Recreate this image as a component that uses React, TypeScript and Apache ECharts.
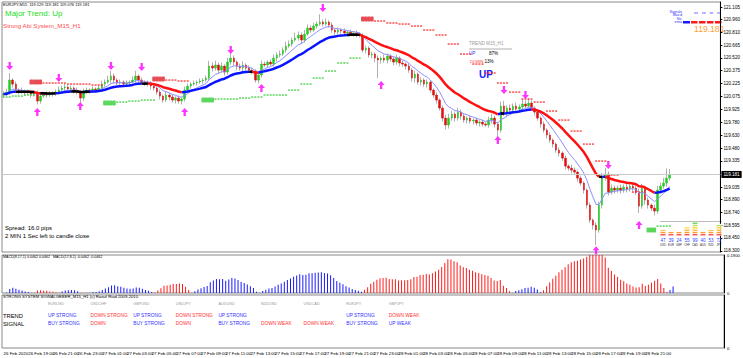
import React, { useEffect, useRef } from "react";
import * as echarts from "echarts";

// ---------------- DATA ----------------
const firstOpen = 120.093;
const closes = [
  120.104, 120.127, 120.265, 120.219, 120.15, 120.127, 120.139, 120.116, 120.127, 120.104,
  120.116, 120.024, 120.081, 120.104, 120.093, 120.116, 120.104, 120.127, 120.15, 120.173,
  120.185, 120.162, 120.173, 120.15, 120.127, 120.058, 120.127, 120.15, 120.139, 120.162,
  120.15, 120.173, 120.219, 120.242, 120.265, 120.311, 120.265, 120.231, 120.242, 120.219,
  120.231, 120.242, 120.265, 120.311, 120.265, 120.242, 120.219, 120.231, 120.196, 120.173,
  120.127, 120.081, 120.035, 120.093, 120.07, 120.035, 120.058, 120.024, 120.047, 120.15,
  120.196, 120.219, 120.231, 120.242, 120.254, 120.265, 120.288, 120.426, 120.403, 120.438,
  120.38, 120.426, 120.357, 120.472, 120.518, 120.472, 120.426, 120.403, 120.438, 120.403,
  120.38, 120.369, 120.265, 120.323, 120.449, 120.438, 120.472, 120.449, 120.518, 120.553,
  120.564, 120.61, 120.656, 120.679, 120.725, 120.748, 120.783, 120.725, 120.794, 120.863,
  120.84, 120.886, 120.909, 120.932, 120.909, 120.932, 120.898, 120.84, 120.817, 120.84,
  120.829, 120.806, 120.817, 120.794, 120.806, 120.794, 120.783, 120.61, 120.633, 120.553,
  120.564, 120.518, 120.495, 120.518, 120.495, 120.541, 120.507, 120.472, 120.518, 120.461,
  120.449, 120.426, 120.38, 120.288, 120.334, 120.242, 120.265, 120.219, 120.242, 120.15,
  120.093, 120.035, 119.943, 119.828, 119.748, 119.828, 119.874, 119.828, 119.897, 119.851,
  119.805, 119.828, 119.794, 119.805, 119.771, 119.782, 119.759, 119.748, 119.805, 119.828,
  119.759, 119.69, 119.966, 119.874, 119.943, 119.92, 119.966, 119.932, 119.955, 119.989,
  119.966, 120.001, 119.943, 119.897, 119.828, 119.759, 119.69, 119.633, 119.575, 119.529,
  119.46, 119.426, 119.368, 119.276, 119.253, 119.23, 119.207, 119.138, 119.081, 119.0,
  118.828, 118.655, 118.598, 118.54, 118.828, 119.138, 119.184, 118.977, 119.023, 119.0,
  119.023, 119.0, 119.035, 119.012, 119.046, 119.023, 118.977, 118.816, 119.023, 118.885,
  118.828, 118.793, 118.759, 119.0, 119.046, 119.081, 119.138, 119.181,
];
// wick lengths in pips (0.01)
const wickUp = [
  3, 4, 8, 2, 3, 2, 4, 2, 3, 2, 2, 3, 4, 2, 3, 2, 2, 3, 4, 3,
  4, 2, 3, 2, 3, 2, 4, 3, 2, 3, 2, 3, 4, 3, 5, 6, 3, 2, 3, 2,
  3, 2, 4, 6, 2, 3, 2, 3, 2, 2, 2, 3, 2, 4, 2, 3, 2, 3, 2, 4,
  3, 2, 3, 2, 3, 2, 3, 6, 4, 5, 3, 4, 2, 5, 6, 3, 2, 3, 4, 2,
  3, 2, 2, 3, 4, 3, 2, 3, 4, 3, 4, 3, 5, 4, 3, 6, 4, 3, 5, 4,
  3, 4, 3, 9, 3, 4, 2, 3, 2, 3, 2, 3, 2, 3, 2, 3, 2, 2, 3, 2,
  3, 2, 3, 2, 4, 3, 2, 3, 4, 2, 3, 2, 3, 2, 4, 2, 3, 2, 3, 2,
  2, 3, 2, 3, 4, 5, 4, 3, 5, 3, 3, 2, 3, 2, 3, 2, 3, 2, 4, 5,
  3, 2, 5, 6, 3, 4, 3, 4, 3, 5, 4, 5, 3, 2, 3, 2, 3, 2, 3, 2,
  2, 3, 2, 3, 2, 4, 3, 2, 3, 2, 2, 3, 2, 3, 4, 6, 7, 3, 4, 3,
  3, 4, 3, 4, 3, 4, 3, 4, 5, 3, 3, 2, 4, 5, 4, 6, 11, 6,
];
const wickDn = [
  3, 2, 3, 4, 2, 3, 2, 3, 2, 4, 3, 4, 3, 2, 3, 2, 3, 2, 3, 2,
  3, 2, 3, 4, 3, 5, 3, 2, 3, 2, 3, 2, 2, 3, 2, 3, 4, 3, 2, 3,
  2, 3, 2, 3, 4, 3, 2, 3, 4, 3, 3, 4, 3, 2, 4, 3, 4, 3, 4, 3,
  2, 3, 2, 3, 2, 3, 2, 3, 4, 3, 4, 3, 4, 3, 3, 4, 5, 3, 4, 3,
  3, 4, 3, 4, 3, 2, 3, 2, 3, 4, 3, 2, 3, 2, 3, 2, 3, 4, 3, 2,
  3, 2, 3, 2, 3, 2, 3, 3, 4, 3, 3, 2, 3, 2, 3, 4, 3, 3, 4, 3,
  4, 5, 21, 4, 3, 4, 3, 4, 3, 4, 3, 4, 3, 4, 5, 3, 4, 3, 4, 3,
  3, 4, 3, 4, 5, 4, 3, 4, 3, 4, 3, 4, 3, 4, 3, 4, 3, 2, 3, 4,
  4, 8, 3, 2, 3, 4, 3, 4, 3, 4, 3, 2, 3, 4, 3, 4, 3, 4, 3, 4,
  3, 4, 3, 4, 3, 4, 3, 4, 3, 4, 4, 3, 5, 17, 3, 4, 3, 4, 3, 4,
  3, 4, 3, 4, 3, 4, 3, 8, 3, 5, 4, 3, 5, 3, 4, 3, 4, 3,
];
const emptySlotsRight = 16;
const priceTicks = [
  121.105, 120.96, 120.81, 120.665, 120.52, 120.375, 120.225, 120.075, 119.925, 119.78,
  119.63, 119.48, 119.335, 119.035, 118.89, 118.74, 118.595, 118.45, 118.3,
];
const timeLabels = [
  "26 Feb 2020", "26 Feb 19:00", "26 Feb 21:00", "26 Feb 23:00", "27 Feb 01:00", "27 Feb 03:00",
  "27 Feb 05:00", "27 Feb 07:00", "27 Feb 09:00", "27 Feb 11:00", "27 Feb 13:00", "27 Feb 15:00",
  "27 Feb 17:00", "27 Feb 19:00", "27 Feb 21:00", "27 Feb 23:00", "28 Feb 01:00", "28 Feb 03:00",
  "28 Feb 05:00", "28 Feb 07:00", "28 Feb 09:00", "28 Feb 11:00", "28 Feb 13:00", "28 Feb 15:00",
  "28 Feb 17:00", "28 Feb 19:00", "28 Feb 21:00", "28 Feb 23:00",
];
// stop steps: [fromCandle, toCandle(exclusive), price]
const redStopBlocks = [[9, 13, 120.242], [49, 53, 120.277], [117, 121, 120.967]];
const redStopDots = [
  [13, 17, 120.231], [17, 21, 120.231], [21, 25, 120.219], [25, 29, 120.219], [29, 33, 120.208],
  [53, 57, 120.265], [57, 61, 120.254],
  [121, 125, 120.944], [125, 129, 120.921], [129, 133, 120.909], [133, 137, 120.886], [137, 141, 120.84],
  [141, 145, 120.783], [145, 149, 120.679], [149, 153, 120.564], [153, 157, 120.449], [157, 161, 120.346],
  [161, 165, 120.231], [165, 169, 120.127], [169, 173, 120.047], [173, 177, 120.012], [177, 181, 119.909],
  [181, 185, 119.805], [185, 189, 119.679], [189, 193, 119.529], [193, 197, 119.334], [197, 201, 119.173],
  [205, 209, 118.977],
];
const greenStopBlocks = [[33, 37, 120.001], [65, 69, 120.035], [210, 213, 118.54]];
const greenStopDots = [
  [0, 3, 120.07], [3, 7, 120.081], [7, 11, 120.093],
  [37, 41, 120.012], [41, 45, 120.024], [45, 50, 120.035],
  [69, 73, 120.047], [73, 77, 120.047], [77, 81, 120.058], [81, 85, 120.07], [85, 89, 120.093],
  [89, 93, 120.093], [93, 97, 120.15], [97, 101, 120.219], [101, 105, 120.288], [105, 109, 120.369],
  [109, 113, 120.461], [113, 117, 120.518],
  [213, 218, 118.586],
];
const sellArrows = [[2, 120.426], [18, 120.288], [35, 120.426], [45, 120.414], [74, 120.61], [104, 121.093], [163, 120.15], [170, 120.093], [197, 119.288]];
const buyArrows = [[11, 119.897], [25, 119.966], [59, 119.897], [84, 120.173], [123, 120.208], [161, 119.575], [193, 118.31], [207, 118.598]];
const currencies = ["USD", "EUR", "GBP", "CHF", "CAD", "AUD", "NZD", "JPY"];
const strength = [47, 39, 24, 55, 99, 40, 53, 72];
const strengthLevels = [0, 15, 45, 55, 70, 85];
const strengthColors = ["#ff1a1a", "#ff8c00", "#ffa500", "#ffc400", "#a6e22e", "#33cc33"];
const pairs = ["EURUSD", "USDCHF", "GBPUSD", "USDJPY", "AUDUSD", "NZDUSD", "USDCAD", "EURJPY", "GBPJPY"];
const trendRow = ["UP STRONG", "DOWN STRONG", "UP STRONG", "DOWN STRONG", "UP STRONG", "", "", "UP STRONG", "DOWN WEAK"];
const signalRow = ["BUY STRONG", "DOWN", "BUY STRONG", "DOWN", "BUY STRONG", "DOWN WEAK", "DOWN WEAK", "BUY STRONG", "UP WEAK"];
const macdMax = 0.19;

// ---------------- HELPERS ----------------
function ema(arr: number[], n: number) {
  const k = 2 / (n + 1);
  const out: number[] = [];
  let e = arr[0];
  arr.forEach((v, i) => {
    e = i === 0 ? v : v * k + e * (1 - k);
    out.push(e);
  });
  return out;
}
const expandSteps = (steps: number[][]) => {
  const pts: number[][] = [];
  steps.forEach(([a, b, p]) => {
    for (let k = a; k < b; k++) pts.push([k, p]);
  });
  return pts;
};
const isUpWord = (s: string) => s.startsWith("UP") || s.startsWith("BUY");

export default function App() {
  const ref = useRef<HTMLDivElement>(null);
  useEffect(() => {
    if (!ref.current) return;
    const chart = echarts.init(ref.current, undefined, { renderer: "svg" });
    const N = closes.length;
    const cats = Array.from({ length: N + emptySlotsRight }, (_, i) => String(i));
    const opens = closes.map((c, i) => (i === 0 ? firstOpen : closes[i - 1]));
    const ohlc = closes.map((c, i) => {
      const o = opens[i];
      return [o, c, Math.min(o, c) - wickDn[i] * 0.01, Math.max(o, c) + wickUp[i] * 0.01];
    });
    const bodies = closes.map((c, i) => {
      const o = opens[i];
      return [o, c, Math.min(o, c), Math.max(o, c)];
    });
    const fast = ema(closes, 8);
    const slow = ema(closes, 21);
    const segBlue: (number | null)[] = cats.map(() => null);
    const segRed: (number | null)[] = cats.map(() => null);
    const segBlack: (number | null)[] = cats.map(() => null);
    for (let i = 1; i < N; i++) {
      const d = slow[i] - slow[i - 1];
      const arr = d > 0.0015 ? segBlue : d < -0.0015 ? segRed : segBlack;
      arr[i - 1] = slow[i - 1];
      arr[i] = slow[i];
    }
    const e8 = ema(closes, 8);
    const e17 = ema(closes, 17);
    const macd = closes.map((_, i) => e8[i] - e17[i]);
    const macdBlue = macd.map((v) => (v > 0 ? v : null));
    const macdRed = macd.map((v) => (v < 0 ? -v : null));
    const last = closes[N - 1];
    const FONT = "Liberation Sans";
    const NARROW = "'Liberation Sans Narrow', 'Liberation Sans'";
    const hiddenX = (g: number) => ({
      type: "category", gridIndex: g, data: cats, boundaryGap: true,
      axisLine: { show: false }, axisTick: { show: false }, axisLabel: { show: false }, splitLine: { show: false },
    });
    const tickInterval = (i: number) => i % 8 === 0 && i < N;
    const downArrow = "path://M3,0 L6,0 L6,5 L9,5 L4.5,10 L0,5 L3,5 Z";
    const upArrow = "path://M4.5,0 L9,5 L6,5 L6,10 L3,10 L3,5 L0,5 Z";
    const txt = (x: number, y: number, text: string, fontSize: number, fill: string, extra: any = {}) => ({
      type: "text", x, y, silent: true,
      style: { text, fontSize, fill, fontFamily: extra.fontFamily ?? FONT, verticalAlign: "middle", align: extra.align ?? "left", fontWeight: extra.fontWeight ?? "normal" },
    });

    const graphics: any[] = [
      txt(3, 4.5, "EURJPY,M15  119.129 119.181 119.076 119.181", 4, "#000", { fontFamily: NARROW }),
      txt(5, 13.5, "Major Trend: Up", 8, "#22dd22"),
      txt(3, 25, "Strong Abi System_M15_H1", 6.2, "#ff4d4d"),
      txt(5, 228, "Spread: 16.0 pips", 6, "#000"),
      txt(5, 235.5, "2 MIN 1 Sec left to candle close", 6, "#000"),
      txt(469, 43.5, "TREND M15_H1", 4.6, "#999"),
      { type: "line", silent: true, shape: { x1: 469, y1: 49, x2: 512, y2: 49 }, style: { stroke: "#999", lineWidth: 0.8 } },
      txt(469, 53.5, "UP", 4.6, "#3333ff"),
      txt(489, 53.5, "87%", 4.6, "#000"),
      txt(470, 61.5, "DOWN", 4.2, "#ff3333"),
      txt(484.5, 61.5, "13%", 4.6, "#000"),
      txt(479, 74.5, "UP", 10, "#1a1aff", { fontWeight: "bold", fontFamily: NARROW }),
      txt(682, 12, "Signals", 3.8, "#3333ff", { align: "right" }),
      txt(682, 15, "Macd", 3.8, "#3333ff", { align: "right" }),
      txt(682, 18.5, "Stc", 3.8, "#3333ff", { align: "right" }),
      txt(682, 22, "ema", 3.8, "#3333ff", { align: "right" }),
      txt(694, 28.5, "119.181", 8.6, "#ffa033", { fontFamily: NARROW }),
      { type: "rect", silent: true, shape: { x: 683, y: 21, width: 7, height: 2.5 }, style: { fill: "#1a1aff" } },
      { type: "line", silent: true, shape: { x1: 660, y1: 221.5, x2: 722, y2: 221.5 }, style: { stroke: "#aaa", lineWidth: 0.8 } },
      txt(3, 257, "MACD(8,17,1) 0.0462 0.0462   MACD(17,8,1) -0.0462 -0.0462", 3.6, "#000"),
      txt(3, 296.5, "STRONG SYSTEM SIGNALGEBER_M15_H1 (c) Raouf Riad 2009-2010", 4.2, "#000"),
      txt(3, 316, "TREND", 5.8, "#000"),
      txt(3, 324, "SIGNAL", 5.8, "#000"),
    ];
    [0, 1, 2, 3].forEach((k) => {
      graphics.push(txt(694 + k * 7.7, 13, "¤¤", 3.5, "#3333ff"));
      graphics.push({ type: "rect", silent: true, shape: { x: 691 + k * 8, y: 21, width: 6.5, height: 2.5 }, style: { fill: "#ff1a1a" } });
    });
    pairs.forEach((p, k) => {
      const x = 48 + k * 42.6;
      graphics.push(txt(x, 304, p, 3.8, "#999"));
      if (trendRow[k]) graphics.push(txt(x, 315.5, trendRow[k], 4.8, isUpWord(trendRow[k]) ? "#3333ff" : "#ff3333"));
      if (signalRow[k]) graphics.push(txt(x, 323.5, signalRow[k], 4.8, isUpWord(signalRow[k]) ? "#3333ff" : "#ff3333"));
    });

    const levelSeries = strengthLevels.map((th, k) => ({
      type: "bar", xAxisIndex: 3, yAxisIndex: 3, stack: "lvl", barWidth: 6,
      data: strength.map((v) => (v >= th ? 1 : 0)),
      itemStyle: { color: strengthColors[k], borderColor: "#fff", borderWidth: 0.6 },
      silent: true,
    }));

    chart.setOption({
      animation: false,
      backgroundColor: "#ffffff",
      textStyle: { fontFamily: FONT },
      grid: [
        { left: 2, top: 2, width: 722, height: 250, show: true, borderColor: "#888", borderWidth: 1 },
        { left: 2, top: 255, width: 722, height: 38, show: true, borderColor: "#888", borderWidth: 1 },
        { left: 2, top: 295, width: 722, height: 53, show: true, borderColor: "#888", borderWidth: 1 },
        { left: 659, top: 222, width: 64, height: 14 },
      ],
      xAxis: [
        hiddenX(0),
        hiddenX(1),
        {
          type: "category", gridIndex: 2, data: cats, boundaryGap: true,
          axisLine: { show: false },
          axisTick: { show: false },
          axisLabel: {
            show: true, interval: tickInterval, fontSize: 4.4, fontFamily: NARROW, color: "#000", align: "left", margin: 3,
            formatter: (v: string) => timeLabels[Math.floor(Number(v) / 8)] ?? "",
          },
          splitLine: { show: false },
        },
        {
          type: "category", gridIndex: 3, data: currencies,
          axisLine: { show: false }, axisTick: { show: false },
          axisLabel: {
            interval: 0, margin: 1.5,
            formatter: (v: string, i: number) => `{n|${strength[i]}}\n{c|${v}}`,
            rich: { n: { fontSize: 4.6, color: "#3344ff", lineHeight: 5, fontFamily: NARROW }, c: { fontSize: 2.8, color: "#333", lineHeight: 3.5 } },
          },
        },
      ],
      yAxis: [
        {
          type: "value", gridIndex: 0, position: "right", min: 118.2885, max: 121.1625,
          axisLine: { show: true, lineStyle: { color: "#000" } },
          axisTick: { show: true, customValues: priceTicks, length: 2, lineStyle: { color: "#000" } },
          axisLabel: { show: true, customValues: priceTicks, formatter: (v: number) => v.toFixed(3), fontSize: 4.6, fontFamily: NARROW, color: "#000", margin: 3 },
          splitLine: { show: false },
        },
        {
          type: "value", gridIndex: 1, position: "right", min: 0, max: macdMax,
          axisLine: { show: true, lineStyle: { color: "#000" } },
          axisTick: { show: false },
          axisLabel: { show: true, customValues: [0, macdMax], formatter: (v: number) => (v === 0 ? "0" : v.toFixed(4)), fontSize: 4.2, fontFamily: NARROW, color: "#000", margin: 3 },
          splitLine: { show: false },
        },
        {
          type: "value", gridIndex: 2, position: "right", min: 0, max: 1,
          axisLine: { show: true, lineStyle: { color: "#000" } }, axisTick: { show: false },
          axisLabel: { show: true, customValues: [0], formatter: () => "0", fontSize: 4.2, color: "#000", margin: 3 },
          splitLine: { show: false },
        },
        { type: "value", gridIndex: 3, min: 0, max: 6, show: false },
      ],
      graphic: graphics,
      series: [
        {
          type: "candlestick", xAxisIndex: 0, yAxisIndex: 0, data: ohlc, barWidth: 1,
          itemStyle: { color: "#b0b0b0", color0: "#b0b0b0", borderColor: "#b0b0b0", borderColor0: "#b0b0b0", borderColorDoji: "#b0b0b0", borderWidth: 1 },
          silent: true,
          markLine: {
            symbol: "none", silent: true,
            lineStyle: { color: "#c8c8c8", type: "solid", width: 1 },
            label: { show: true, position: "end", formatter: last.toFixed(3), backgroundColor: "#000", color: "#fff", fontSize: 4.6, fontFamily: NARROW, padding: [1, 2], distance: 1 },
            data: [{ yAxis: last }],
          },
        },
        {
          type: "candlestick", xAxisIndex: 0, yAxisIndex: 0, data: bodies, barWidth: 2,
          itemStyle: { color: "#22cc22", color0: "#e01010", borderColor: "#22cc22", borderColor0: "#e01010", borderColorDoji: "#888", borderWidth: 0.5 },
          silent: true,
        },
        { type: "line", xAxisIndex: 0, yAxisIndex: 0, data: fast, symbol: "none", lineStyle: { color: "#8c8cff", width: 1 }, silent: true },
        { type: "line", xAxisIndex: 0, yAxisIndex: 0, data: segBlue, symbol: "none", lineStyle: { color: "#0a14ff", width: 2.5 }, silent: true },
        { type: "line", xAxisIndex: 0, yAxisIndex: 0, data: segRed, symbol: "none", lineStyle: { color: "#ff1010", width: 2.5 }, silent: true },
        { type: "line", xAxisIndex: 0, yAxisIndex: 0, data: segBlack, symbol: "none", lineStyle: { color: "#000", width: 2.5 }, silent: true },
        { type: "scatter", xAxisIndex: 0, yAxisIndex: 0, data: expandSteps(redStopDots), symbol: "rect", symbolSize: [2, 1.5], itemStyle: { color: "#ff2020" }, silent: true },
        { type: "scatter", xAxisIndex: 0, yAxisIndex: 0, data: expandSteps(redStopBlocks), symbol: "roundRect", symbolSize: [3.4, 5], itemStyle: { color: "#e0202a" }, silent: true },
        { type: "scatter", xAxisIndex: 0, yAxisIndex: 0, data: expandSteps(greenStopDots), symbol: "rect", symbolSize: [2, 1.5], itemStyle: { color: "#33cc33" }, silent: true },
        { type: "scatter", xAxisIndex: 0, yAxisIndex: 0, data: expandSteps(greenStopBlocks), symbol: "roundRect", symbolSize: [3.4, 5], itemStyle: { color: "#33cc33" }, silent: true },
        { type: "scatter", xAxisIndex: 0, yAxisIndex: 0, data: sellArrows, symbol: downArrow, symbolSize: [7, 8], itemStyle: { color: "#ff00ff" }, silent: true },
        { type: "scatter", xAxisIndex: 0, yAxisIndex: 0, data: buyArrows, symbol: upArrow, symbolSize: [7, 8], itemStyle: { color: "#ff00ff" }, silent: true },
        { type: "bar", xAxisIndex: 1, yAxisIndex: 1, data: macdBlue, barWidth: 1, itemStyle: { color: "#1a1aff" }, silent: true },
        { type: "bar", xAxisIndex: 1, yAxisIndex: 1, data: macdRed, barWidth: 1, barGap: "-100%", itemStyle: { color: "#ff1a1a" }, silent: true },
        ...levelSeries,
      ],
    });
    return () => chart.dispose();
  }, []);
  return <div ref={ref} style={{ position: "absolute", left: 0, top: 0, width: 743, height: 358 }} />;
}
